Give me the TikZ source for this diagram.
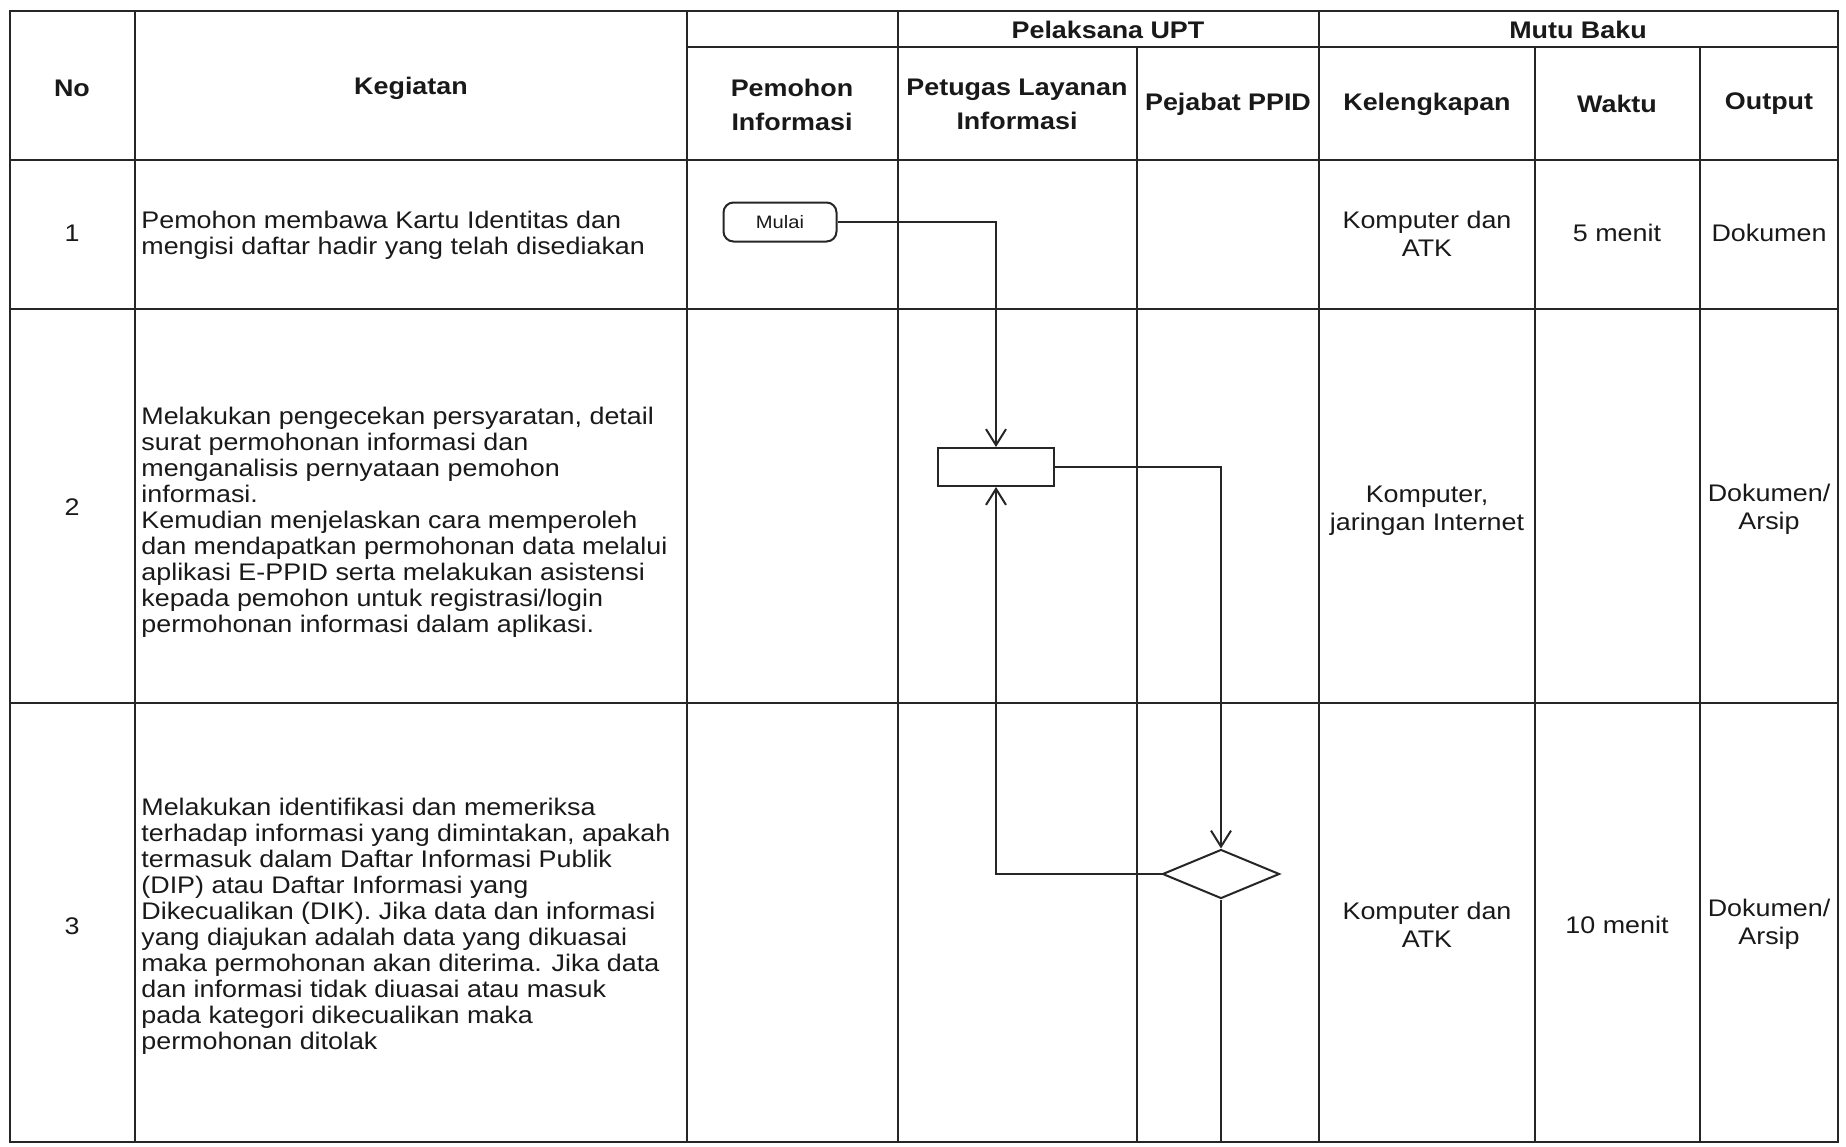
\documentclass[tikz,border=0pt]{standalone}
\usepackage{fontspec}
\setmainfont[FakeStretch=1.12]{Liberation Sans}
\usetikzlibrary{shapes.geometric,arrows.meta}

\begin{document}
\begin{tikzpicture}[x=0.5pt,y=-0.5pt,
  garis/.style={black!85, line width=1pt},
  judul/.style={font=\fontsize{12}{17}\selectfont\bfseries, text=black!90, align=center, inner sep=0pt},
  isi/.style={font=\fontsize{12}{14}\selectfont, text=black!90, align=center, inner sep=0pt},
  uraian/.style={isi, font=\fontsize{12}{13}\selectfont, align=left, anchor=west},
  alur/.style={black!85, line width=1pt, -{Straight Barb[length=8pt,width=10pt]}},
  proses/.style={draw=black!85, line width=1pt, minimum width=58pt, minimum height=19pt, inner sep=0pt}]
  \useasboundingbox (0,0) rectangle (1846,1146);

  % tabel
  \draw[garis] (10,11) rectangle (1838,1142);
  \draw[garis] (687,47) -- (1838,47);
  \draw[garis] (10,160) -- (1838,160);
  \draw[garis] (10,309) -- (1838,309);
  \draw[garis] (10,703) -- (1838,703);
  \draw[garis] (135,11) -- (135,1142);
  \draw[garis] (687,11) -- (687,1142);
  \draw[garis] (898,11) -- (898,1142);
  \draw[garis] (1137,47) -- (1137,1142);
  \draw[garis] (1319,11) -- (1319,1142);
  \draw[garis] (1535,47) -- (1535,1142);
  \draw[garis] (1700,47) -- (1700,1142);

  % kepala tabel
  \node[judul] (hno) at (72,88) {No};
  \node[judul] (hkeg) at (411,88) {Kegiatan};
  \node[judul] (hpem) at (792,105) {Pemohon\\Informasi};
  \node[judul] (hupt) at (1108,30) {Pelaksana UPT};
  \node[judul] (hmutu) at (1578,30) {Mutu Baku};
  \node[judul] (hpet) at (1017,104) {Petugas Layanan\\Informasi};
  \node[judul] (hpej) at (1228,104) {Pejabat PPID};
  \node[judul] (hkel) at (1427,104) {Kelengkapan};
  \node[judul] (hwak) at (1617,104) {Waktu};
  \node[judul] (hout) at (1769,104) {Output};

  % baris 1
  \node[isi] (no1) at (72,233) {1};
  \node[uraian] (keg1) at (141,235) {Pemohon membawa Kartu Identitas dan\\mengisi daftar hadir yang telah disediakan};
  \node[isi] (kel1) at (1427,234) {Komputer dan\\ATK};
  \node[isi] (wak1) at (1617,233) {5 menit};
  \node[isi] (out1) at (1769,233) {Dokumen};

  % baris 2
  \node[isi] (no2) at (72,507) {2};
  \node[uraian] (keg2) at (141,522) {Melakukan pengecekan persyaratan, detail\\surat permohonan informasi dan\\menganalisis pernyataan pemohon\\informasi.\\Kemudian menjelaskan cara memperoleh\\dan mendapatkan permohonan data melalui\\aplikasi E-PPID serta melakukan asistensi\\kepada pemohon untuk registrasi/login\\permohonan informasi dalam aplikasi.};
  \node[isi] (kel2) at (1427,511) {Komputer,\\jaringan Internet};
  \node[isi] (out2) at (1769,509) {Dokumen/\\Arsip};

  % baris 3
  \node[isi] (no3) at (72,926) {3};
  \node[uraian] (keg3) at (141,926) {Melakukan identifikasi dan memeriksa\\terhadap informasi yang dimintakan, apakah\\termasuk dalam Daftar Informasi Publik\\(DIP) atau Daftar Informasi yang\\Dikecualikan (DIK). Jika data dan informasi\\yang diajukan adalah data yang dikuasai\\maka permohonan akan diterima. Jika data\\dan informasi tidak diuasai atau masuk\\pada kategori dikecualikan maka\\permohonan ditolak};
  \node[isi] (kel3) at (1427,925) {Komputer dan\\ATK};
  \node[isi] (wak3) at (1617,925) {10 menit};
  \node[isi] (out3) at (1769,924) {Dokumen/\\Arsip};

  % alur
  \node[proses, rounded corners=5pt, minimum width=56.5pt, minimum height=19.5pt, font=\fontsize{9}{11}\selectfont, text=black!90] (mulai) at (780,222) {Mulai};
  \node[proses] (cek) at (996,467) {};
  \node[draw=black!85, line width=1pt, diamond, aspect=2.4, minimum width=58.5pt, minimum height=24.5pt, inner sep=0pt] (putus) at (1221,874) {};
  \coordinate (akhir) at (1221,1142);
  \draw[alur] (mulai.east) -| (cek.north);
  \draw[alur] (cek.east) -| (putus.north);
  \draw[alur] (putus.west) -| (cek.south);
  \draw[black!85, line width=1pt] (putus.south) -- (akhir);
\end{tikzpicture}
\end{document}
